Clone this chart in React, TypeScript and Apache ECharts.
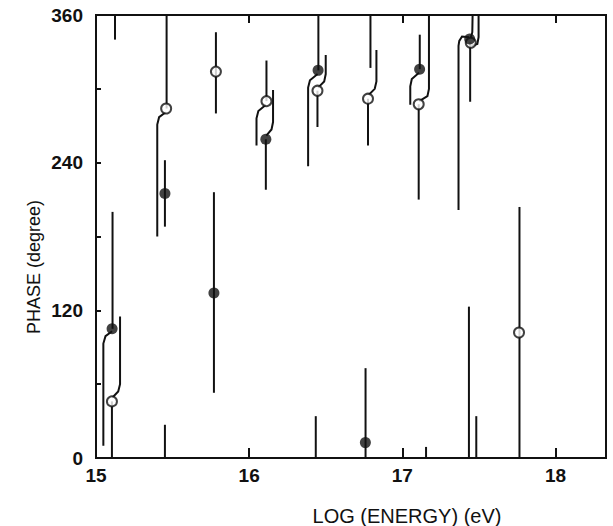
import React, { useEffect, useRef } from "react";
import * as echarts from "echarts";

const xTickValues = [15, 16, 17, 18];
const yLabelValues = [0, 120, 240, 360];
const xAxisTitle = "LOG (ENERGY) (eV)";
const yAxisTitle = "PHASE (degree)";

// filled circles: [log(E), phase]
const filledPoints = [
  [15.105, 105], [15.45, 215], [15.77, 134], [16.109, 259], [16.45, 315],
  [16.759, 12.5], [17.113, 316], [17.44, 340.5],
];
// open circles: [log(E), phase]
const openPoints = [
  [15.104, 46], [15.458, 284], [15.783, 314], [16.113, 290], [16.446, 298.5],
  [16.776, 292], [17.107, 287.5], [17.447, 337.5], [17.762, 102],
];
// error bar traces (including offset legs and wrapped parts)
const errorTraces = [
  [[15.124, 360], [15.124, 340]],
  [[15.108, 105], [15.108, 200]],
  [[15.105, 103], [15.062, 99], [15.048, 93], [15.048, 10]],
  [[15.104, 46], [15.104, 0]],
  [[15.106, 49], [15.145, 54], [15.157, 60], [15.157, 115]],

  [[15.461, 284], [15.461, 360]],
  [[15.455, 281], [15.412, 277], [15.4, 271], [15.4, 180]],
  [[15.45, 188], [15.45, 242]],
  [[15.45, 0], [15.45, 27]],

  [[15.783, 280], [15.783, 346]],
  [[15.77, 53], [15.77, 216]],

  [[16.113, 290], [16.113, 323]],
  [[16.11, 287], [16.06, 282], [16.048, 276], [16.048, 254]],
  [[16.109, 259], [16.109, 218]],
  [[16.112, 262], [16.146, 267], [16.156, 273], [16.156, 299]],

  [[16.452, 315], [16.452, 360]],
  [[16.447, 312], [16.397, 307], [16.385, 301], [16.385, 237]],
  [[16.446, 298.5], [16.446, 269]],
  [[16.45, 301], [16.49, 306], [16.5, 312], [16.5, 327.5]],
  [[16.435, 0], [16.435, 34]],

  [[16.776, 292], [16.776, 254]],
  [[16.78, 295], [16.82, 300], [16.831, 306], [16.831, 331.5]],
  [[16.792, 360], [16.792, 317]],
  [[16.76, 0], [16.76, 73]],

  [[17.114, 316], [17.114, 344]],
  [[17.109, 313], [17.062, 308], [17.052, 302], [17.052, 287]],
  [[17.107, 287.5], [17.107, 210]],
  [[17.111, 290], [17.164, 294], [17.174, 300], [17.174, 360]],
  [[17.155, 0], [17.155, 9]],

  [[17.437, 342], [17.39, 342.5], [17.372, 339], [17.367, 335], [17.367, 201.5]],
  [[17.443, 338], [17.443, 289.5]],
  [[17.446, 341], [17.457, 346], [17.459, 360]],
  [[17.452, 335], [17.49, 336.5], [17.498, 342], [17.498, 360]],
  [[17.435, 0], [17.435, 123]],
  [[17.483, 0], [17.483, 34]],

  [[17.765, 0], [17.765, 204]],
];

const FONT = '"Liberation Sans", Arial, Helvetica, sans-serif';
const INK = "#111";

export default function App() {
  const ref = useRef<HTMLDivElement>(null);
  useEffect(() => {
    document.body.style.margin = "0";
    if (!ref.current) return;
    const chart = echarts.init(ref.current, undefined, { renderer: "svg" });
    const axisLine = { show: true, onZero: false, lineStyle: { color: INK, width: 2 } };
    chart.setOption({
      animation: false,
      backgroundColor: "#fff",
      grid: {
        left: 96, right: 7, top: 15, bottom: 68, containLabel: false,
        show: true, borderColor: INK, borderWidth: 2, backgroundColor: "transparent",
      },
      xAxis: [
        {
          type: "value", position: "bottom", min: 15, max: 18.33, interval: 1,
          axisLine, splitLine: { show: false },
          axisTick: { show: true, inside: true, length: 10, lineStyle: { color: INK, width: 2 } },
          axisLabel: {
            margin: 8, color: INK, fontFamily: FONT, fontSize: 19, fontWeight: "bold",
            formatter: (v: number) => (xTickValues.includes(v) ? String(v) : ""),
          },
        },
        {
          type: "value", position: "top", min: 15, max: 18.33, interval: 1,
          axisLine, splitLine: { show: false },
          axisTick: { show: true, inside: true, length: 8, lineStyle: { color: INK, width: 2 } },
          axisLabel: { show: false },
        },
      ],
      yAxis: [
        {
          type: "value", position: "left", min: 0, max: 360, interval: 60,
          axisLine, splitLine: { show: false },
          axisTick: { show: true, inside: true, length: 5, lineStyle: { color: INK, width: 2 } },
          axisLabel: {
            margin: 13, color: INK, fontFamily: FONT, fontSize: 19, fontWeight: "bold",
            formatter: (v: number) => (yLabelValues.includes(v) ? String(v) : ""),
          },
        },
        {
          type: "value", position: "right", min: 0, max: 360,
          axisLine, splitLine: { show: false }, axisTick: { show: false }, axisLabel: { show: false },
        },
      ],
      graphic: [
        {
          type: "text", x: 407, y: 516,
          style: { text: xAxisTitle, font: `20px ${FONT}`, fill: INK, align: "center", verticalAlign: "middle" },
        },
        {
          type: "text", x: 34, y: 267, rotation: Math.PI / 2,
          style: { text: yAxisTitle, font: `18px ${FONT}`, fill: INK, align: "center", verticalAlign: "middle" },
        },
      ],
      series: [
        {
          type: "lines", coordinateSystem: "cartesian2d", xAxisIndex: 0, yAxisIndex: 0,
          polyline: true, silent: true, z: 2,
          lineStyle: { color: INK, width: 2, opacity: 1 },
          data: errorTraces.map((c) => ({ coords: c })),
        },
        {
          type: "scatter", xAxisIndex: 0, yAxisIndex: 0, symbol: "circle", symbolSize: 10, z: 3,
          itemStyle: { color: "#fff", borderColor: INK, borderWidth: 2 },
          data: openPoints,
        },
        {
          type: "scatter", xAxisIndex: 0, yAxisIndex: 0, symbol: "circle", symbolSize: 11, z: 4,
          itemStyle: { color: INK },
          data: filledPoints,
        },
      ],
    });
    return () => chart.dispose();
  }, []);
  return <div ref={ref} style={{ width: 613, height: 526 }} />;
}
